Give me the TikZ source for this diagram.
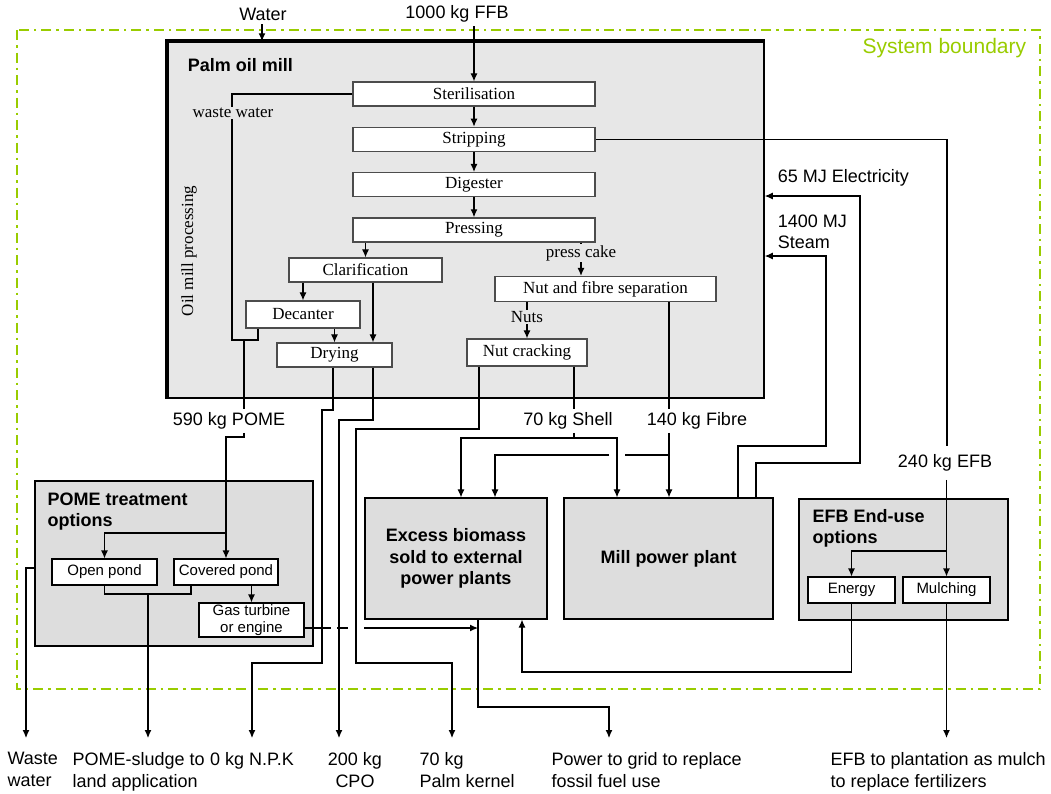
\documentclass[tikz,border=0pt]{standalone}
\usepackage{fontspec}
\setmainfont{Liberation Sans}
\newfontfamily\millserif{Liberation Serif}
\usetikzlibrary{arrows.meta, positioning}
\definecolor{sysgreen}{RGB}{153,204,0}
\definecolor{millgray}{RGB}{231,231,231}
\definecolor{boxgray}{RGB}{221,221,221}

\begin{document}
\begin{tikzpicture}[x=1pt, y=-1pt, line width=1.1pt, font=\fontsize{18}{21.5}\selectfont,
    arr/.style={-{Latex[length=8pt,width=7pt]}},
    millbox/.style={draw=black!70, line width=1.3pt, fill=white, inner sep=0pt, minimum height=24pt, font=\millserif\fontsize{17}{19}\selectfont},
    milltext/.style={fill=millgray, inner sep=1pt, font=\millserif\fontsize{17}{19}\selectfont},
    optbox/.style={draw, line width=1.1pt, fill=white, inner sep=0pt, minimum height=26pt, align=center, font=\fontsize{15}{17.5}\selectfont},
    graybox/.style={draw, line width=1.2pt, fill=boxgray, inner sep=0pt, minimum height=121pt, align=center, font=\bfseries\fontsize{18}{21.5}\selectfont},
    boxtitle/.style={anchor=north west, inner sep=0pt, align=left, font=\bfseries\fontsize{18}{21}\selectfont},
    amount/.style={inner sep=3pt},
    outlabel/.style={anchor=north west, align=left, inner xsep=0pt, inner ysep=14pt, font=\fontsize{18}{22}\selectfont}]
\useasboundingbox (0,0) rectangle (1051,793);

\draw[sysgreen, line width=2.6pt, dash pattern=on 10pt off 5pt on 2.5pt off 5pt] (17,30) rectangle (1040,689);
\node[anchor=east, text=sysgreen, font=\fontsize{21}{24}\selectfont] (sysb) at (1030,48) {System boundary};

\node (water) at (263,14) {Water};
\node (ffb) at (457,14) {1000 kg FFB};

\node[draw, line width=1.5pt, fill=millgray, minimum width=596pt, minimum height=356pt, inner sep=0pt] (mill) at (466,220) {};
\draw[line width=4pt] (mill.south west) -- (mill.north west) -- (mill.north east);
\node[anchor=west, font=\bfseries\fontsize{18}{21}\selectfont] (millname) at (184,65) {Palm oil mill};
\node[rotate=90, font=\millserif\fontsize{17}{20}\selectfont] (omp) at (189,251) {Oil mill processing};

\node[millbox, minimum width=242pt] (ster) at (474,94) {Sterilisation};
\node[millbox, minimum width=242pt, below=20pt of ster] (strip) {Stripping};
\node[millbox, minimum width=242pt, below=20pt of strip] (dig) {Digester};
\node[millbox, minimum width=242pt, below=20pt of dig] (press) {Pressing};
\node[millbox, minimum width=153pt] (clar) at (365.5,270) {Clarification};
\node[millbox, minimum width=114pt, minimum height=27pt] (dec) at (303,314.5) {Decanter};
\node[millbox, minimum width=115pt] (dry) at (334.5,355) {Drying};
\node[millbox, minimum width=221pt, minimum height=25pt] (nfs) at (605.5,289) {Nut and fibre separation};
\node[millbox, minimum width=120pt, minimum height=27pt] (nutc) at (527,352.5) {Nut cracking};

\draw[arr] (water.south -| 262,0) -- (mill.north -| 262,0);
\draw[arr] (ffb.south -| ster) -- (ster);
\foreach \a/\b in {ster/strip, strip/dig, dig/press}
    \draw[arr] (\a) -- (\b);
\draw[arr] (press.south -| clar) -- (clar);
\draw[arr] (clar.south -| dec) -- (dec);
\draw[arr] (dec.south -| dry) -- (dry);
\draw[arr] (clar.south -| 373,0) -- (dry.north -| 373,0);
\draw (ster) -| (232,340) -| (dec.south -| 258,0);
\node[milltext] (wwlab) at (233,113) {waste water};
\node[milltext] (pcake) at (581,253) {press cake};
\draw (press.south -| pcake) -- (pcake);
\draw[arr] (pcake) -- (pcake |- nfs.north);
\node[milltext] (nuts) at (527,317) {Nuts};
\draw (nfs.south -| nuts) -- (nuts);
\draw[arr] (nuts) -- (nutc);

\node[amount] (pome) at (229,421) {590 kg POME};
\node[amount] (shell) at (568,421) {70 kg Shell};
\node[amount] (fibre) at (697,421) {140 kg Fibre};
\node[amount, inner sep=8pt] (efb) at (945,463) {240 kg EFB};
\node[anchor=west] (elec) at (774,178) {65 MJ Electricity};
\node[anchor=west, align=left] (steam) at (774,232) {1400 MJ\\Steam};

\node[graybox, minimum width=278pt, minimum height=165pt] (pomebox) at (174,563.5) {};
\node[boxtitle] (pometitle) at (47,492) {POME treatment\\options};
\node[optbox, minimum width=105pt] (openp) at (104.5,572) {Open pond};
\node[optbox, minimum width=104pt] (covp) at (226,572) {Covered pond};
\node[optbox, minimum width=105pt, minimum height=34pt] (gast) at (251.5,620) {Gas turbine\\or engine};

\node[graybox, minimum width=182pt] (excess) at (456,558.5) {Excess biomass\\sold to external\\power plants};
\node[graybox, minimum width=209pt] (millpp) at (668.5,558.5) {Mill power plant};

\node[graybox, minimum width=209pt] (efbbox) at (903.5,559.5) {};
\node[boxtitle] (efbtitle) at (812,509) {EFB End-use\\options};
\node[optbox, minimum width=87pt] (energy) at (851.5,590) {Energy};
\node[optbox, minimum width=87pt] (mulch) at (946.5,590) {Mulching};

\node[outlabel] (wwout) at (7,738) {Waste\\water};
\node[outlabel] (sludge) at (72,738) {POME-sludge to\\land application};
\node[outlabel, anchor=north] (npk) at (252,738) {0 kg N.P.K};
\node[outlabel, anchor=north, align=center] (cpo) at (355,738) {200 kg\\CPO};
\node[outlabel] (kernel) at (419,738) {70 kg\\Palm kernel};
\node[outlabel] (grid) at (551,738) {Power to grid to replace\\fossil fuel use};
\node[outlabel] (efbout) at (830,738) {EFB to plantation as mulch\\to replace fertilizers};

\draw (244,340) -- (pome.north -| 244,0);
\draw[arr] (pome.south -| 244,0) -- (244,437) -| (covp);
\draw[arr] (covp.north |- 0,533) -| (openp);
\draw (openp) -- (openp |- 0,594) -| (covp.south -| 191,0);
\draw[arr] (148,594) -- (sludge.north -| 148,0);
\draw[arr] (covp.south -| gast) -- (gast);
\draw[arr] (pomebox.west |- 0,568) -| (wwout.north -| 26,0);

\draw[arr] (dry.south -| 333,0) -- (333,410) -| (322,663) -| (npk);
\draw[arr] (dry.south -| 373,0) -- (373,420) -| (cpo.north -| 339,0);
\draw[arr] (nutc.south -| 479,0) -- (479,429) -| (356,663) -| (kernel.north -| 452,0);

\draw (gast.east |- 0,628) -- (331,628);
\draw (337,628) -- (348,628);
\draw[arr] (364,628) -- (478,628);
\draw[arr] (excess.south -| 478,0) -- (478,707) -| (grid.north -| 609,0);
\draw[arr] (energy) -- (energy |- 0,672) -| (excess.south -| 522,0);

\draw (nutc.south -| 574,0) -- (shell.north -| 574,0);
\draw[arr] (shell.south -| 574,0) -- (574,438) -| (excess.north -| 461,0);
\draw[arr] (574,438) -| (millpp.north -| 617,0);
\draw (nfs.south -| 669,0) -- (fibre.north -| 669,0);
\draw[arr] (fibre.south -| 669,0) -- (millpp.north -| 669,0);
\draw (669,455) -- (625,455);
\draw[arr] (609,455) -| (excess.north -| 495,0);

\draw[arr] (millpp.north -| 738,0) |- (826,446) |- (mill.east |- 0,256);
\draw[arr] (millpp.north -| 756,0) |- (860,463) |- (mill.east |- 0,196);

\draw (strip) -- (947,0 |- strip) -- (efb.north -| 947,0);
\draw[arr] (efb.south -| mulch) -- (mulch);
\draw[arr] (mulch.north |- 0,551) -| (energy);
\draw[arr] (mulch) -- (efbout.north -| mulch);
\end{tikzpicture}
\end{document}
